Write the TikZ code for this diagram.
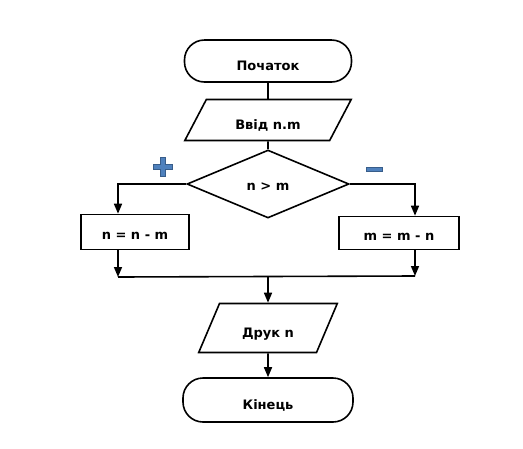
\documentclass[tikz,border=0pt]{standalone}
\usepackage{fontspec}
\setmainfont{DejaVu Sans}
\usetikzlibrary{shapes.geometric,arrows.meta,positioning}
\definecolor{signfill}{HTML}{4F81BD}
\definecolor{signline}{HTML}{385D8A}
\tikzset{every node/.style={font=\bfseries\fontsize{13}{15}\selectfont,text depth=0pt},
terminal/.style={draw,rectangle,rounded corners=20pt,minimum width=167pt,minimum height=42pt,text height=18pt},
io/.style={draw,trapezium,trapezium left angle=63,trapezium right angle=117,trapezium stretches=true,text height=18pt},
decision/.style={draw,diamond,minimum width=162pt,minimum height=68pt,inner sep=0pt,text height=13pt},
process/.style={draw,rectangle,text height=14pt},
sign/.style={fill=signfill,draw=signline,line width=0.8pt}
}

\begin{document}
\begin{tikzpicture}[x=1pt,y=1pt,on grid,line width=1.6pt,>={Triangle[length=10pt,width=8pt]}]
        \useasboundingbox (0,0) rectangle (523,-448);
        \node[terminal] (start) at (268,-61) {Початок};
        \node[io,minimum width=168pt,minimum height=41pt] (read) [below=59pt of start] {Ввід n.m};
        \node[decision] (cond) [below=64pt of read] {n > m};
        \node[process,minimum width=108pt,minimum height=35pt] (sub1) [below left=48pt and 133pt of cond] {n = n - m};
        \node[process,minimum width=120pt,minimum height=33pt] (sub2) [below right=49pt and 131pt of cond] {m = m - n};
        \node[io,minimum width=139pt,minimum height=49pt] (print) [below=144pt of cond] {Друк n};
        \node[terminal,minimum width=170pt,minimum height=44pt] (stop) [below=72pt of print] {Кінець};

        \coordinate (jl) at (118,-277);
        \coordinate (jr) at (415,-276);
        \coordinate (jm) at (print.north |- 0,-276.5);

        \draw[line width=2.4pt] (start) -- (read);
        \draw (read) -- (cond);
        \draw[->] (cond.west) -| (jl |- sub1.north);
        \draw[->] (cond.east) -| (jr |- sub2.north);
        \draw[->] (jl |- sub1.south) -- (jl);
        \draw[->] (jr |- sub2.south) -- (jr);
        \draw (jl) -- (jr);
        \draw[->] (jm) -- (print);
        \draw[->] (print) -- (stop);

        % plus and minus signs
        \draw[sign] (160,-157) -- (165,-157) -- (165,-164) -- (172,-164) -- (172,-169) -- (165,-169)
              -- (165,-176) -- (160,-176) -- (160,-169) -- (153,-169) -- (153,-164) -- (160,-164) -- cycle;
        \draw[sign] (366,-167) rectangle (382,-171.5);
      \end{tikzpicture}
\end{document}
